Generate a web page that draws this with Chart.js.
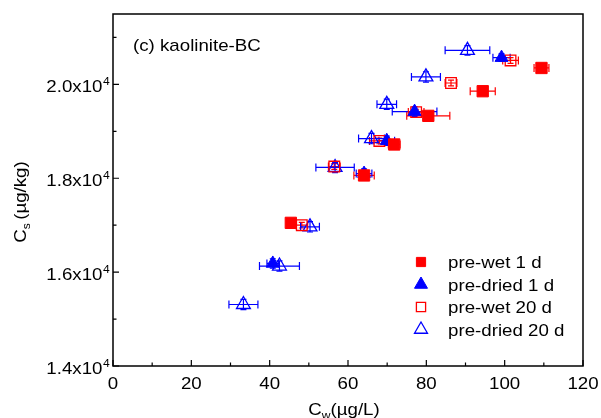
<!DOCTYPE html>
<html>
<head>
<meta charset="utf-8">
<script src="https://cdn.jsdelivr.net/npm/chart.js@4.4.1/dist/chart.umd.min.js"></script>
<style>
  html, body { margin: 0; padding: 0; background: #fff; }
  #wrap { width: 601px; height: 418px; position: relative; }
</style>
</head>
<body>
<div id="wrap"><canvas id="chart" width="601" height="418"></canvas></div>
<script>
// donnees (c) kaolinite-BC
const preWet1X = [45.4, 64.1, 71.8, 80.5, 94.4, 109.4];
const preWet1Y = [17050, 18060, 18720, 19330, 19855, 20350];
const preWet1ErrX = [1.0, 2.6, 1.5, 5.5, 3.2, 1.9];
const preWet1ErrY = [60, 60, 60, 60, 60, 60];

const preDried1X = [40.8, 64.1, 69.9, 77.0, 99.2];
const preDried1Y = [16185, 18100, 18800, 19420, 20570];
const preDried1ErrX = [1.5, 2.0, 2.0, 5.7, 2.2];
const preDried1ErrY = [100, 100, 100, 100, 80];

const preWet20X = [48.2, 56.5, 68.0, 77.4, 86.3, 101.5];
const preWet20Y = [17000, 18250, 18795, 19410, 20030, 20510];
const preWet20ErrX = [1.5, 1.5, 2.5, 2.0, 1.5, 2.0];
const preWet20ErrY = [60, 60, 60, 60, 60, 60];

const preDried20X = [33.3, 42.5, 50.3, 56.7, 66.0, 69.9, 79.9, 90.5];
const preDried20Y = [15310, 16130, 16965, 18230, 18845, 19575, 20160, 20725];
const preDried20ErrX = [3.7, 5.1, 2.4, 4.9, 3.3, 2.5, 3.7, 5.7];
const preDried20ErrY = [110, 110, 110, 110, 110, 110, 110, 100];

const seriesLabels = ["pre-wet 1 d", "pre-dried 1 d", "pre-wet 20 d", "pre-dried 20 d"];
const xTicks = [0, 20, 40, 60, 80, 100, 120];
const xMinorTicks = [10, 30, 50, 70, 90, 110];
const yTicks = [14000, 16000, 18000, 20000];
const yMinorTicks = [15000, 17000, 19000, 21000];

const ROUGE = "#ff0000";
const BLEU = "#0000ff";
const POLICE = '"Liberation Sans", Arial, sans-serif';
const ETIRE = 1.1; // le texte de la figure est un peu elargi

function points(xs, ys, ex, ey) {
  return xs.map((v, i) => ({ x: v, y: ys[i], ex: ex[i], ey: ey[i] }));
}

// ecrit un texte elargi horizontalement, ancre en (x, y)
function texte(ctx, str, x, y, taille, align) {
  ctx.save();
  ctx.font = taille + "px " + POLICE;
  ctx.textAlign = align || "left";
  ctx.textBaseline = "alphabetic";
  ctx.translate(x, y);
  ctx.scale(ETIRE, 1);
  ctx.fillText(str, 0, 0);
  ctx.restore();
}

function largeur(ctx, str, taille) {
  ctx.save();
  ctx.font = taille + "px " + POLICE;
  const w = ctx.measureText(str).width * ETIRE;
  ctx.restore();
  return w;
}

// barres d'erreur dessinees avec les echelles du graphique
const barresErreur = {
  id: "barresErreur",
  beforeDatasetsDraw(chart) {
    const { ctx, scales: { x, y } } = chart;
    chart.data.datasets.forEach((ds) => {
      ctx.save();
      ctx.strokeStyle = ds.borderColor;
      ctx.lineWidth = 1.2;
      ds.data.forEach((p) => {
        const px = x.getPixelForValue(p.x);
        const py = y.getPixelForValue(p.y);
        const x0 = x.getPixelForValue(p.x - p.ex);
        const x1 = x.getPixelForValue(p.x + p.ex);
        const y0 = y.getPixelForValue(p.y - p.ey);
        const y1 = y.getPixelForValue(p.y + p.ey);
        ctx.beginPath();
        ctx.moveTo(x0, py); ctx.lineTo(x1, py);
        ctx.moveTo(x0, py - 4); ctx.lineTo(x0, py + 4);
        ctx.moveTo(x1, py - 4); ctx.lineTo(x1, py + 4);
        ctx.moveTo(px, y0); ctx.lineTo(px, y1);
        ctx.moveTo(px - 3, y0); ctx.lineTo(px + 3, y0);
        ctx.moveTo(px - 3, y1); ctx.lineTo(px + 3, y1);
        ctx.stroke();
      });
      ctx.restore();
    });
  },
};

// cadre, graduations vers l'interieur, textes, legende
const cadreEtTextes = {
  id: "cadreEtTextes",
  afterDraw(chart) {
    const { ctx, chartArea: a, scales: { x, y } } = chart;
    ctx.save();
    ctx.strokeStyle = "#000";
    ctx.lineWidth = 1.5;
    ctx.strokeRect(a.left, a.top, a.right - a.left, a.bottom - a.top);

    ctx.lineWidth = 1.2;
    ctx.beginPath();
    xTicks.forEach((v) => {
      const px = x.getPixelForValue(v);
      ctx.moveTo(px, a.bottom); ctx.lineTo(px, a.bottom - 6);
    });
    xMinorTicks.forEach((v) => {
      const px = x.getPixelForValue(v);
      ctx.moveTo(px, a.bottom); ctx.lineTo(px, a.bottom - 3.5);
    });
    yTicks.forEach((v) => {
      const py = y.getPixelForValue(v);
      ctx.moveTo(a.left, py); ctx.lineTo(a.left + 6, py);
    });
    yMinorTicks.forEach((v) => {
      const py = y.getPixelForValue(v);
      ctx.moveTo(a.left, py); ctx.lineTo(a.left + 3.5, py);
    });
    ctx.stroke();

    ctx.fillStyle = "#000";
    xTicks.forEach((v) => texte(ctx, String(v), x.getPixelForValue(v), 389, 17, "center"));

    yTicks.forEach((v) => {
      const py = y.getPixelForValue(v);
      texte(ctx, (v / 10000).toFixed(1) + "x10", 102.5, py + 7.8, 17, "right");
      texte(ctx, "4", 103, py + 1, 11, "left");
    });

    // titre axe x : Cw(µg/L)
    const wC = largeur(ctx, "C", 17);
    const wW = largeur(ctx, "w", 11);
    const wReste = largeur(ctx, "(\u00b5g/L)", 17);
    const xt = 344 - (wC + wW + wReste) / 2;
    texte(ctx, "C", xt, 415, 17);
    texte(ctx, "w", xt + wC, 419, 11);
    texte(ctx, "(\u00b5g/L)", xt + wC + wW, 415, 17);

    // titre axe y : Cs (µg/kg)
    ctx.save();
    ctx.translate(26, 202);
    ctx.rotate(-Math.PI / 2);
    const wS = largeur(ctx, "s ", 11);
    const wYr = largeur(ctx, "(\u00b5g/kg)", 17);
    const yt = -(wC + wS + wYr) / 2;
    texte(ctx, "C", yt, 0, 17);
    texte(ctx, "s", yt + wC, 4, 11);
    texte(ctx, "(\u00b5g/kg)", yt + wC + wS, 0, 17);
    ctx.restore();

    // etiquette du panneau
    texte(ctx, "(c) kaolinite-BC", 133, 51, 17);

    // legende
    const lignesY = [262, 284.5, 307, 329.5];
    chart.data.datasets.forEach((ds, i) => {
      const ly = lignesY[i];
      ctx.save();
      ctx.fillStyle = ds.backgroundColor;
      ctx.strokeStyle = ds.borderColor;
      ctx.lineWidth = ds.borderWidth;
      Chart.helpers.drawPoint(ctx, {
        pointStyle: ds.pointStyle,
        radius: ds.pointStyle === "triangle" ? 7.5 : 6.5,
        rotation: 0,
        borderWidth: ds.borderWidth,
      }, 421, ly);
      ctx.restore();
      ctx.fillStyle = "#000";
      texte(ctx, ds.label, 448, ly + 6, 17);
    });
    ctx.restore();
  },
};

new Chart(document.getElementById("chart").getContext("2d"), {
  type: "scatter",
  data: {
    datasets: [
      {
        label: seriesLabels[0],
        data: points(preWet1X, preWet1Y, preWet1ErrX, preWet1ErrY),
        pointStyle: "rect",
        pointRadius: 8,
        backgroundColor: ROUGE,
        borderColor: ROUGE,
        borderWidth: 1,
      },
      {
        label: seriesLabels[1],
        data: points(preDried1X, preDried1Y, preDried1ErrX, preDried1ErrY),
        pointStyle: "triangle",
        pointRadius: 7.5,
        backgroundColor: BLEU,
        borderColor: BLEU,
        borderWidth: 1,
      },
      {
        label: seriesLabels[2],
        data: points(preWet20X, preWet20Y, preWet20ErrX, preWet20ErrY),
        pointStyle: "rect",
        pointRadius: 7.5,
        backgroundColor: "rgba(0,0,0,0)",
        borderColor: ROUGE,
        borderWidth: 1.3,
      },
      {
        label: seriesLabels[3],
        data: points(preDried20X, preDried20Y, preDried20ErrX, preDried20ErrY),
        pointStyle: "triangle",
        pointRadius: 8,
        backgroundColor: "rgba(0,0,0,0)",
        borderColor: BLEU,
        borderWidth: 1.3,
      },
    ],
  },
  options: {
    responsive: false,
    animation: false,
    devicePixelRatio: 1,
    layout: { padding: { left: 113, top: 14, right: 18, bottom: 52 } },
    plugins: {
      legend: { display: false },
      tooltip: { enabled: false },
    },
    scales: {
      x: { type: "linear", min: 0, max: 120, display: false },
      y: { type: "linear", min: 14000, max: 21500, display: false },
    },
  },
  plugins: [barresErreur, cadreEtTextes],
});
</script>
</body>
</html>
